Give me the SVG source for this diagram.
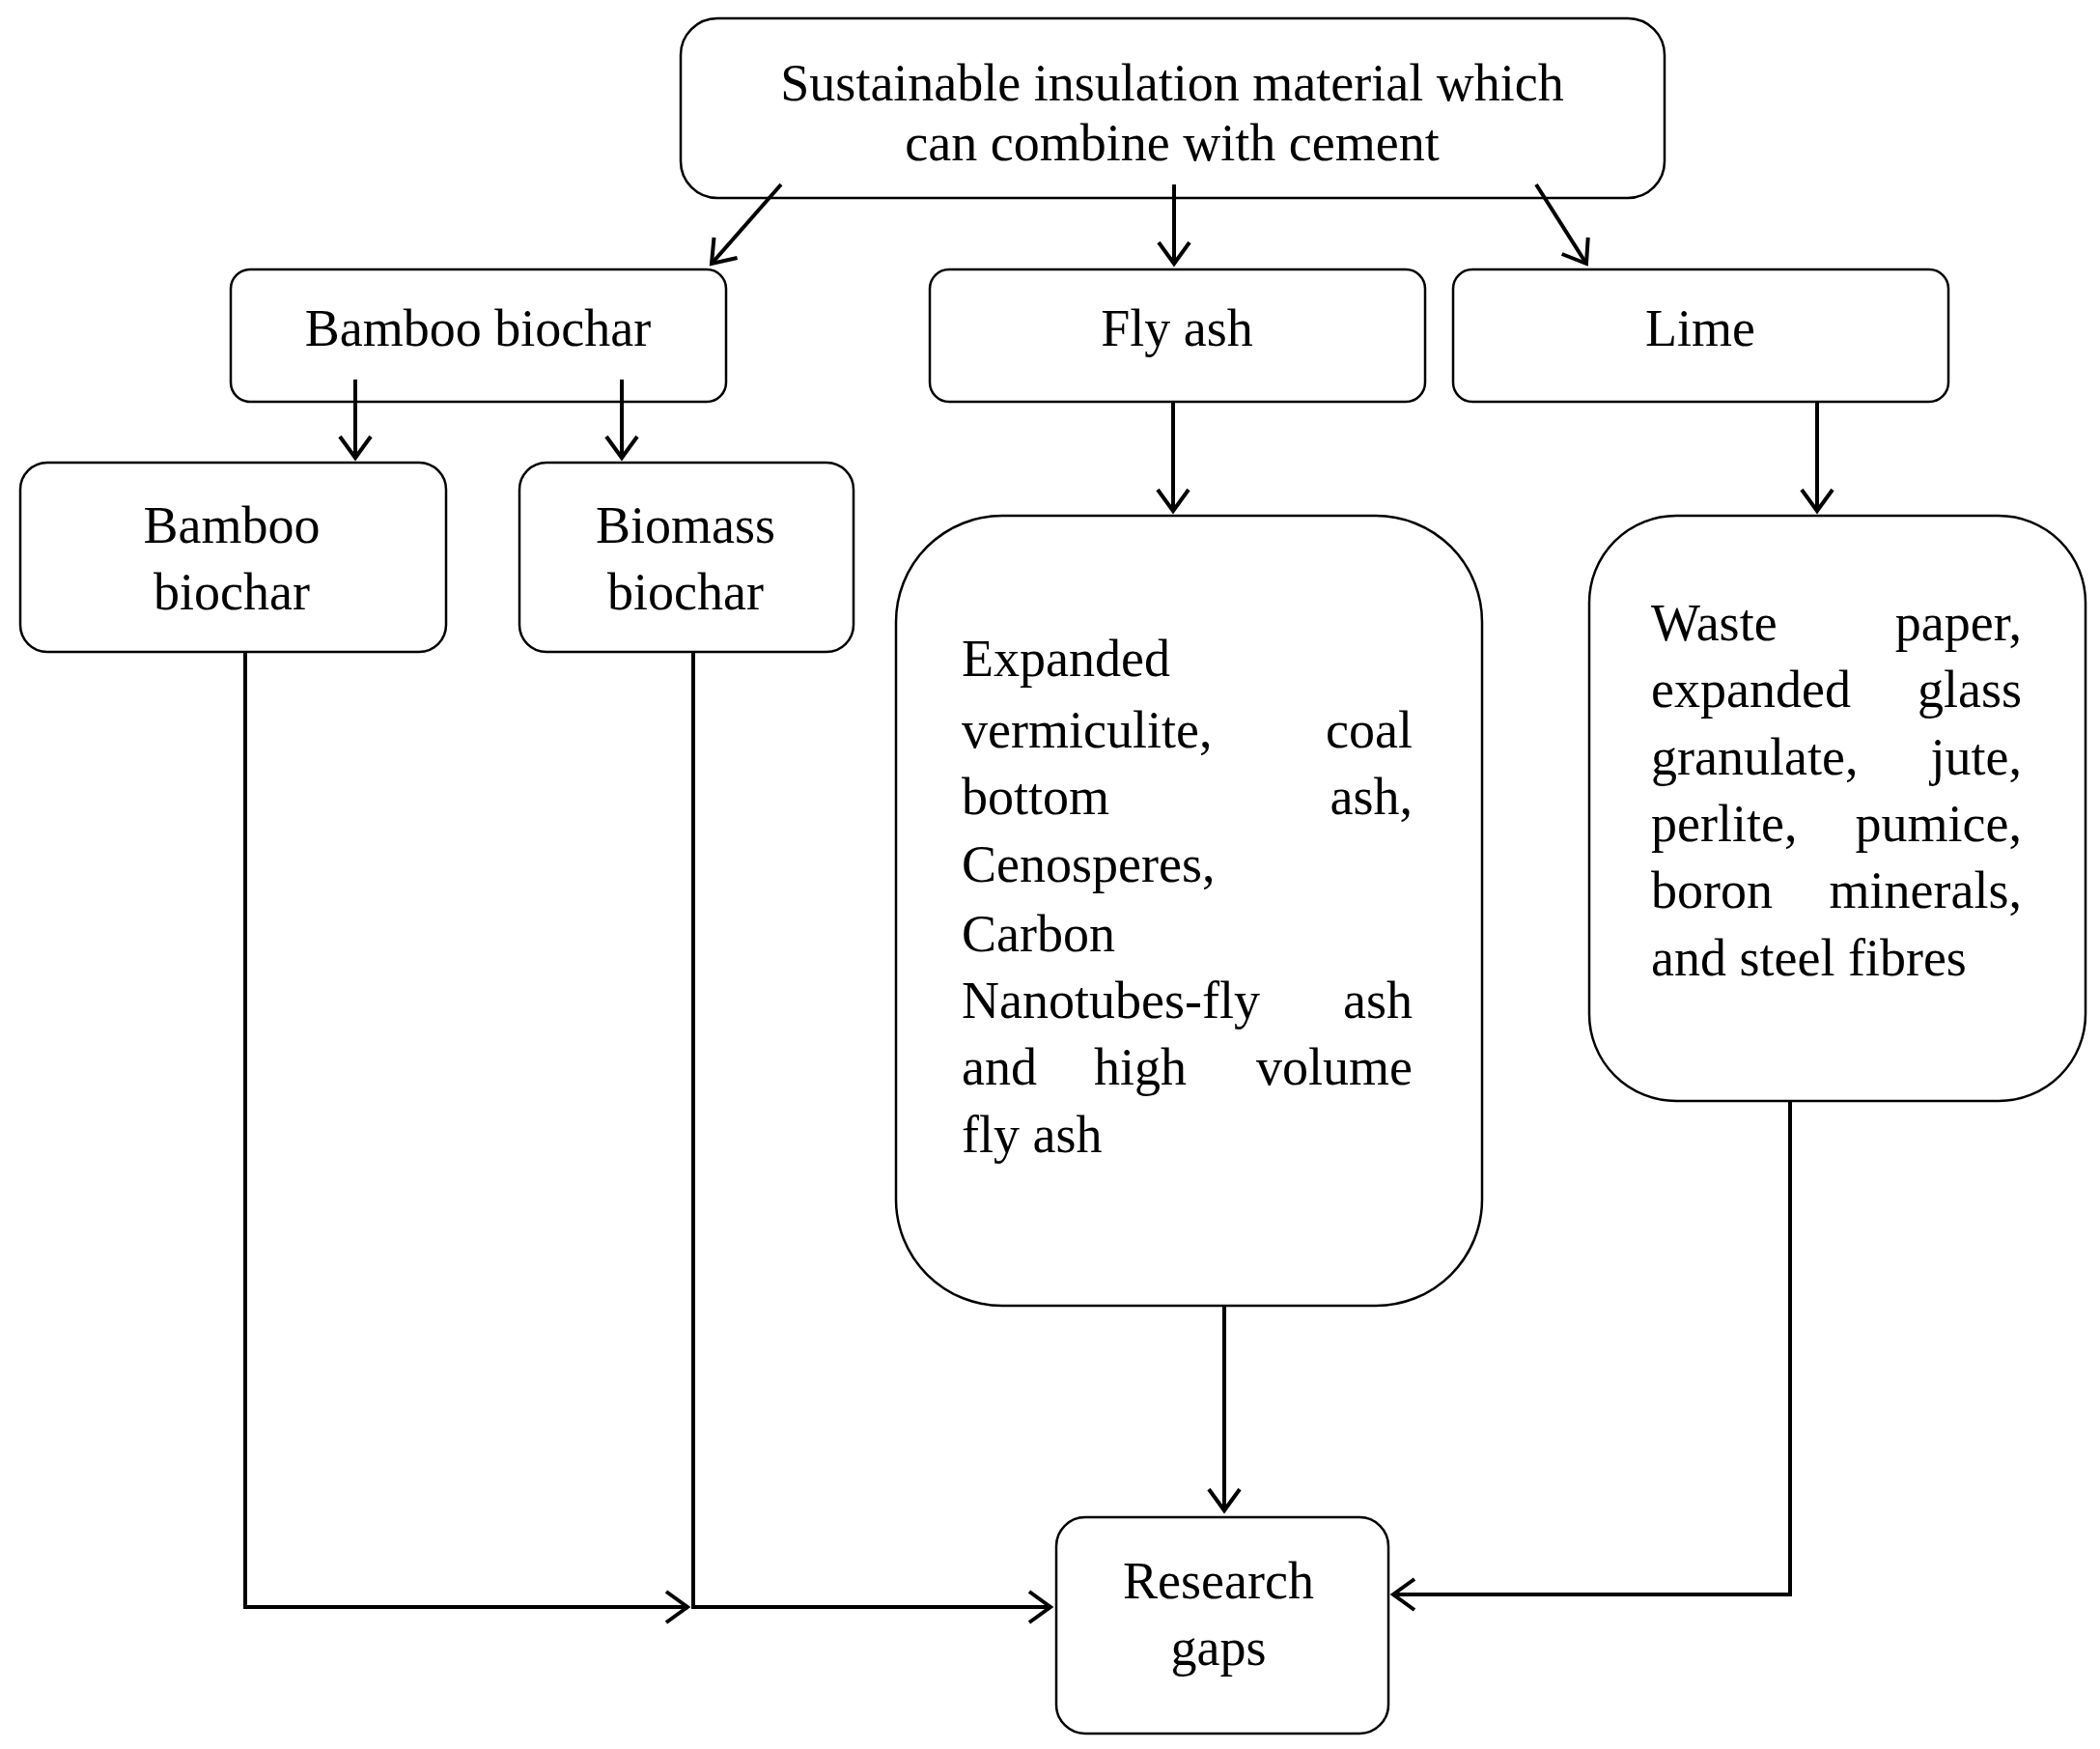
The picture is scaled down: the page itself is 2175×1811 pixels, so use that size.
<svg xmlns="http://www.w3.org/2000/svg" width="2175" height="1811" viewBox="0 0 2175 1811">
<style>
.b{fill:#fff;stroke:#000;stroke-width:2.5}
.t{font-family:"Liberation Serif",serif;font-size:54px;fill:#000}
.c{text-anchor:middle}
.e{text-anchor:end}
.l{fill:none;stroke:#000;stroke-width:4}
</style>
<defs>
<marker id="a" markerWidth="12" markerHeight="12" refX="10" refY="6" orient="auto" markerUnits="userSpaceOnUse" viewBox="0 0 12 12" overflow="visible">
<path d="M-12,-10 L10,6 L-12,22" fill="none" stroke="#000" stroke-width="4"/>
</marker>
</defs>
<rect width="2175" height="1811" fill="#fff"/>
<g id="top"><rect class="b" x="705" y="19" width="1019" height="186" rx="38"/>
<text class="t c" x="1214" y="104">Sustainable insulation material which</text>
<text class="t c" x="1214" y="166">can combine with cement</text></g>
<g id="bamboo"><rect class="b" x="239" y="279" width="513" height="137" rx="20"/><text class="t c" x="495" y="358">Bamboo biochar</text></g>
<g id="flyash"><rect class="b" x="963" y="279" width="513" height="137" rx="20"/><text class="t c" x="1219" y="358">Fly ash</text></g>
<g id="lime"><rect class="b" x="1505" y="279" width="513" height="137" rx="20"/><text class="t c" x="1761" y="358">Lime</text></g>
<g id="bamboo2"><rect class="b" x="21" y="479" width="441" height="196" rx="28"/><text class="t c" x="240" y="562">Bamboo</text><text class="t c" x="240" y="631">biochar</text></g>
<g id="biomass"><rect class="b" x="538" y="479" width="346" height="196" rx="28"/><text class="t c" x="710" y="562">Biomass</text><text class="t c" x="710" y="631">biochar</text></g>
<g id="flybox"><rect class="b" x="928" y="534" width="607" height="818" rx="110"/>
<text class="t" x="996" y="700">Expanded</text>
<text class="t" x="996" y="774">vermiculite,</text><text class="t e" x="1463" y="774">coal</text>
<text class="t" x="996" y="843">bottom</text><text class="t e" x="1463" y="843">ash,</text>
<text class="t" x="996" y="913">Cenosperes,</text>
<text class="t" x="996" y="985">Carbon</text>
<text class="t" x="996" y="1054">Nanotubes-fly</text><text class="t e" x="1463" y="1054">ash</text>
<text class="t" x="996" y="1123">and</text><text class="t c" x="1181" y="1123">high</text><text class="t e" x="1463" y="1123">volume</text>
<text class="t" x="996" y="1193">fly ash</text></g>
<g id="limebox"><rect class="b" x="1646" y="534" width="514" height="606" rx="90"/>
<text class="t" x="1710" y="663">Waste</text><text class="t e" x="2094" y="663">paper,</text>
<text class="t" x="1710" y="732">expanded</text><text class="t e" x="2094" y="732">glass</text>
<text class="t" x="1710" y="802">granulate,</text><text class="t e" x="2094" y="802">jute,</text>
<text class="t" x="1710" y="871">perlite,</text><text class="t e" x="2094" y="871">pumice,</text>
<text class="t" x="1710" y="940">boron</text><text class="t e" x="2094" y="940">minerals,</text>
<text class="t" x="1710" y="1010">and steel fibres</text></g>
<g id="gaps"><rect class="b" x="1094" y="1571" width="344" height="224" rx="30"/><text class="t c" x="1262" y="1655">Research</text><text class="t c" x="1262" y="1724">gaps</text></g>
<g id="connectors">
<line class="l" x1="809" y1="191" x2="737" y2="273" marker-end="url(#a)"/>
<line class="l" x1="1216" y1="191" x2="1216" y2="273" marker-end="url(#a)"/>
<line class="l" x1="1591" y1="191" x2="1643" y2="273" marker-end="url(#a)"/>
<line class="l" x1="368" y1="393" x2="368" y2="474" marker-end="url(#a)"/>
<line class="l" x1="644" y1="393" x2="644" y2="474" marker-end="url(#a)"/>
<line class="l" x1="1215" y1="416" x2="1215" y2="529" marker-end="url(#a)"/>
<line class="l" x1="1882" y1="416" x2="1882" y2="529" marker-end="url(#a)"/>
<polyline class="l" points="254,675 254,1664 712,1664" marker-end="url(#a)"/>
<polyline class="l" points="718,675 718,1664 1088,1664" marker-end="url(#a)"/>
<line class="l" x1="1268" y1="1352" x2="1268" y2="1564" marker-end="url(#a)"/>
<polyline class="l" points="1854,1140 1854,1651 1443,1651" marker-end="url(#a)"/>
</g>
</svg>
